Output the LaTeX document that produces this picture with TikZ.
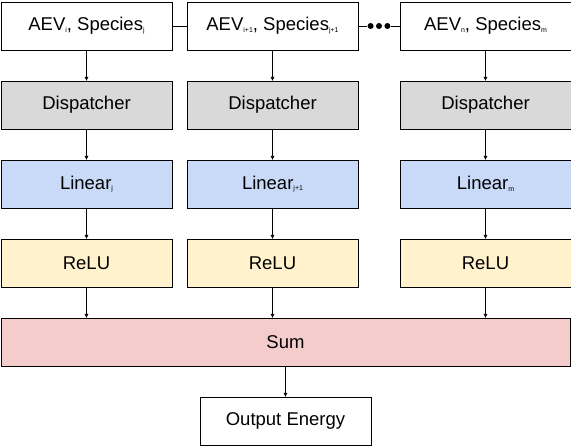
\documentclass[tikz,border=0pt]{standalone}
\usepackage{fontspec}
\setmainfont{Liberation Sans}
\usepackage{tikz}
\usetikzlibrary{positioning, arrows.meta, calc}
\definecolor{dispcolor}{RGB}{217, 217, 217}
\definecolor{linearcolor}{RGB}{201, 218, 248}
\definecolor{relucolor}{RGB}{255, 242, 204}
\definecolor{sumcolor}{RGB}{244, 204, 204}
\newcommand{\idx}[1]{\raisebox{-1.5pt}{\fontsize{7}{7}\selectfont #1}}

\begin{document}
\begin{tikzpicture}[
    x=1pt, y=1pt,
    node distance=31pt and 15pt,
    block/.style={rectangle, draw, line width=0.8pt, minimum width=171pt, minimum height=48pt, inner sep=0pt, outer sep=0pt, align=center, font=\fontsize{18.5}{22}\selectfont},
    inbox/.style={block, fill=white},
    disp/.style={block, fill=dispcolor},
    linear/.style={block, fill=linearcolor},
    relu/.style={block, fill=relucolor},
    sumbox/.style={block, fill=sumcolor, minimum width=569pt},
    dot/.style={circle, fill, inner sep=0pt, minimum size=6pt},
    arrow/.style={-{Latex[length=4pt, width=4pt]}, line width=0.6pt},
    link/.style={line width=0.8pt},
]
\useasboundingbox (0,0) rectangle (571,-446);

% Input row
\node[inbox] (aev1) at (86.5, -26) {AEV\idx{i}, Species\idx{j}};
\node[inbox, right=of aev1] (aev2) {AEV\idx{i+1}, Species\idx{j+1}};
\node[inbox, right=42pt of aev2] (aev3) {AEV\idx{n}, Species\idx{m}};

% Dots between the input boxes
\node[dot] (dot2) at ($(aev2.east)!0.5!(aev3.west)$) {};
\node[dot, left=2pt of dot2] (dot1) {};
\node[dot, right=2pt of dot2] (dot3) {};

\draw[link] (aev1) -- (aev2);
\draw[link] (aev2) -- (dot1);
\draw[link] (dot3) -- (aev3);

% Dispatchers
\node[disp, below=of aev1] (disp1) {Dispatcher};
\node[disp, below=of aev2] (disp2) {Dispatcher};
\node[disp, below=of aev3] (disp3) {Dispatcher};

% Linear layers
\node[linear, below=of disp1] (lin1) {Linear\idx{j}};
\node[linear, below=of disp2] (lin2) {Linear\idx{j+1}};
\node[linear, below=of disp3] (lin3) {Linear\idx{m}};

% Activations
\node[relu, below=of lin1] (relu1) {ReLU};
\node[relu, below=of lin2] (relu2) {ReLU};
\node[relu, below=of lin3] (relu3) {ReLU};

% Sum and output
\node[sumbox, below=31pt of relu1.south west, anchor=north west] (sum) {Sum};
\node[inbox, below=of sum] (out) {Output Energy};

% Arrows
\draw[arrow] (aev1) -- (disp1);
\draw[arrow] (aev2) -- (disp2);
\draw[arrow] (aev3) -- (disp3);
\draw[arrow] (disp1) -- (lin1);
\draw[arrow] (disp2) -- (lin2);
\draw[arrow] (disp3) -- (lin3);
\draw[arrow] (lin1) -- (relu1);
\draw[arrow] (lin2) -- (relu2);
\draw[arrow] (lin3) -- (relu3);
\draw[arrow] (relu1) -- (relu1 |- sum.north);
\draw[arrow] (relu2) -- (relu2 |- sum.north);
\draw[arrow] (relu3) -- (relu3 |- sum.north);
\draw[arrow] (sum) -- (out);

\end{tikzpicture}
\end{document}
